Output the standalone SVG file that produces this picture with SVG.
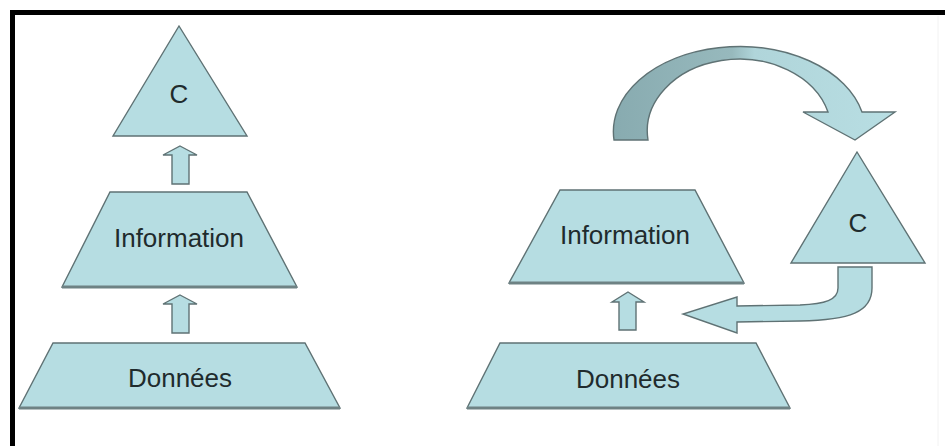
<svg xmlns="http://www.w3.org/2000/svg" width="945" height="446" viewBox="0 0 945 446">
  <style>
    .shape { fill: #b6dde2; stroke: #5f7274; stroke-width: 1.4; stroke-linejoin: miter; }
    .base { stroke: #6e8284; stroke-width: 3; }
    .label { font-family: "Liberation Sans", Arial, sans-serif; font-size: 26px; fill: #1f2b2d; text-anchor: middle; }
  </style>
  <defs>
    <linearGradient id="arcFill" gradientUnits="userSpaceOnUse" x1="614" y1="0" x2="895" y2="0">
      <stop offset="0" stop-color="#88abb0"/>
      <stop offset="0.42" stop-color="#97b9bd"/>
      <stop offset="0.5" stop-color="#b0d5da"/>
      <stop offset="1" stop-color="#b8dee3"/>
    </linearGradient>
  </defs>

  <rect x="0" y="0" width="945" height="446" fill="#ffffff"/>
  <!-- frame -->
  <rect x="10" y="10" width="935" height="5" fill="#000"/>
  <rect x="10" y="10" width="5" height="436" fill="#000"/>
  <line x1="938" y1="16" x2="938" y2="446" stroke="#f2f2f2" stroke-width="1"/>

  <!-- left pyramid -->
  <g id="left-c">
    <polygon class="shape" points="179,26 247,136 113,136"/>
    <text class="label" x="179" y="103">C</text>
  </g>
  <g id="left-information">
    <polygon class="shape" points="110,192 247,192 297,287 62,287"/>
    <line class="base" x1="62" y1="287" x2="297" y2="287"/>
    <text class="label" x="179" y="247">Information</text>
  </g>
  <g id="left-donnees">
    <polygon class="shape" points="53,343 305,343 340,408 19,408"/>
    <line class="base" x1="19" y1="408" x2="340" y2="408"/>
    <text class="label" x="180" y="387">Données</text>
  </g>

  <!-- right cycle -->
  <g id="right-information">
    <polygon class="shape" points="560,190 695,190 744,283 509,283"/>
    <line class="base" x1="509" y1="283" x2="744" y2="283"/>
    <text class="label" x="625" y="244">Information</text>
  </g>
  <g id="right-donnees">
    <polygon class="shape" points="500,343 756,343 790,408 467,408"/>
    <line class="base" x1="467" y1="408" x2="790" y2="408"/>
    <text class="label" x="628" y="388">Données</text>
  </g>
  <g id="right-c">
    <polygon class="shape" points="857,152 925,263 791,263"/>
    <text class="label" x="858" y="232">C</text>
  </g>

  <g id="connectors">
    <!-- block arrows upward -->
    <polygon class="shape" points="180,146 197,155 189,155 189,184 172,184 172,155 163,155"/>
    <polygon class="shape" points="180,295 197,304 189,304 189,333 172,333 172,304 163,304"/>
    <polygon class="shape" points="628,292 644,302 636,302 636,330 619,330 619,302 612,302"/>
    <!-- curved arrow from Information over to C -->
    <path fill="url(#arcFill)" stroke="#5f7274" stroke-width="1.4" d="M614,140 A126,85 0 0 1 862,112 L895,112 L855,140 L803,112 L828,112 A92,72 0 0 0 648,140 Z"/>
    <!-- bent arrow from C back to Information -->
    <path class="shape" d="M838,267 L872,267 L872,288 C872,312 850,320 800,321 L737,322 L737,333 L683,314 L737,297 L737,306 L800,305 C825,304 838,300 838,288 Z"/>
  </g>
</svg>
